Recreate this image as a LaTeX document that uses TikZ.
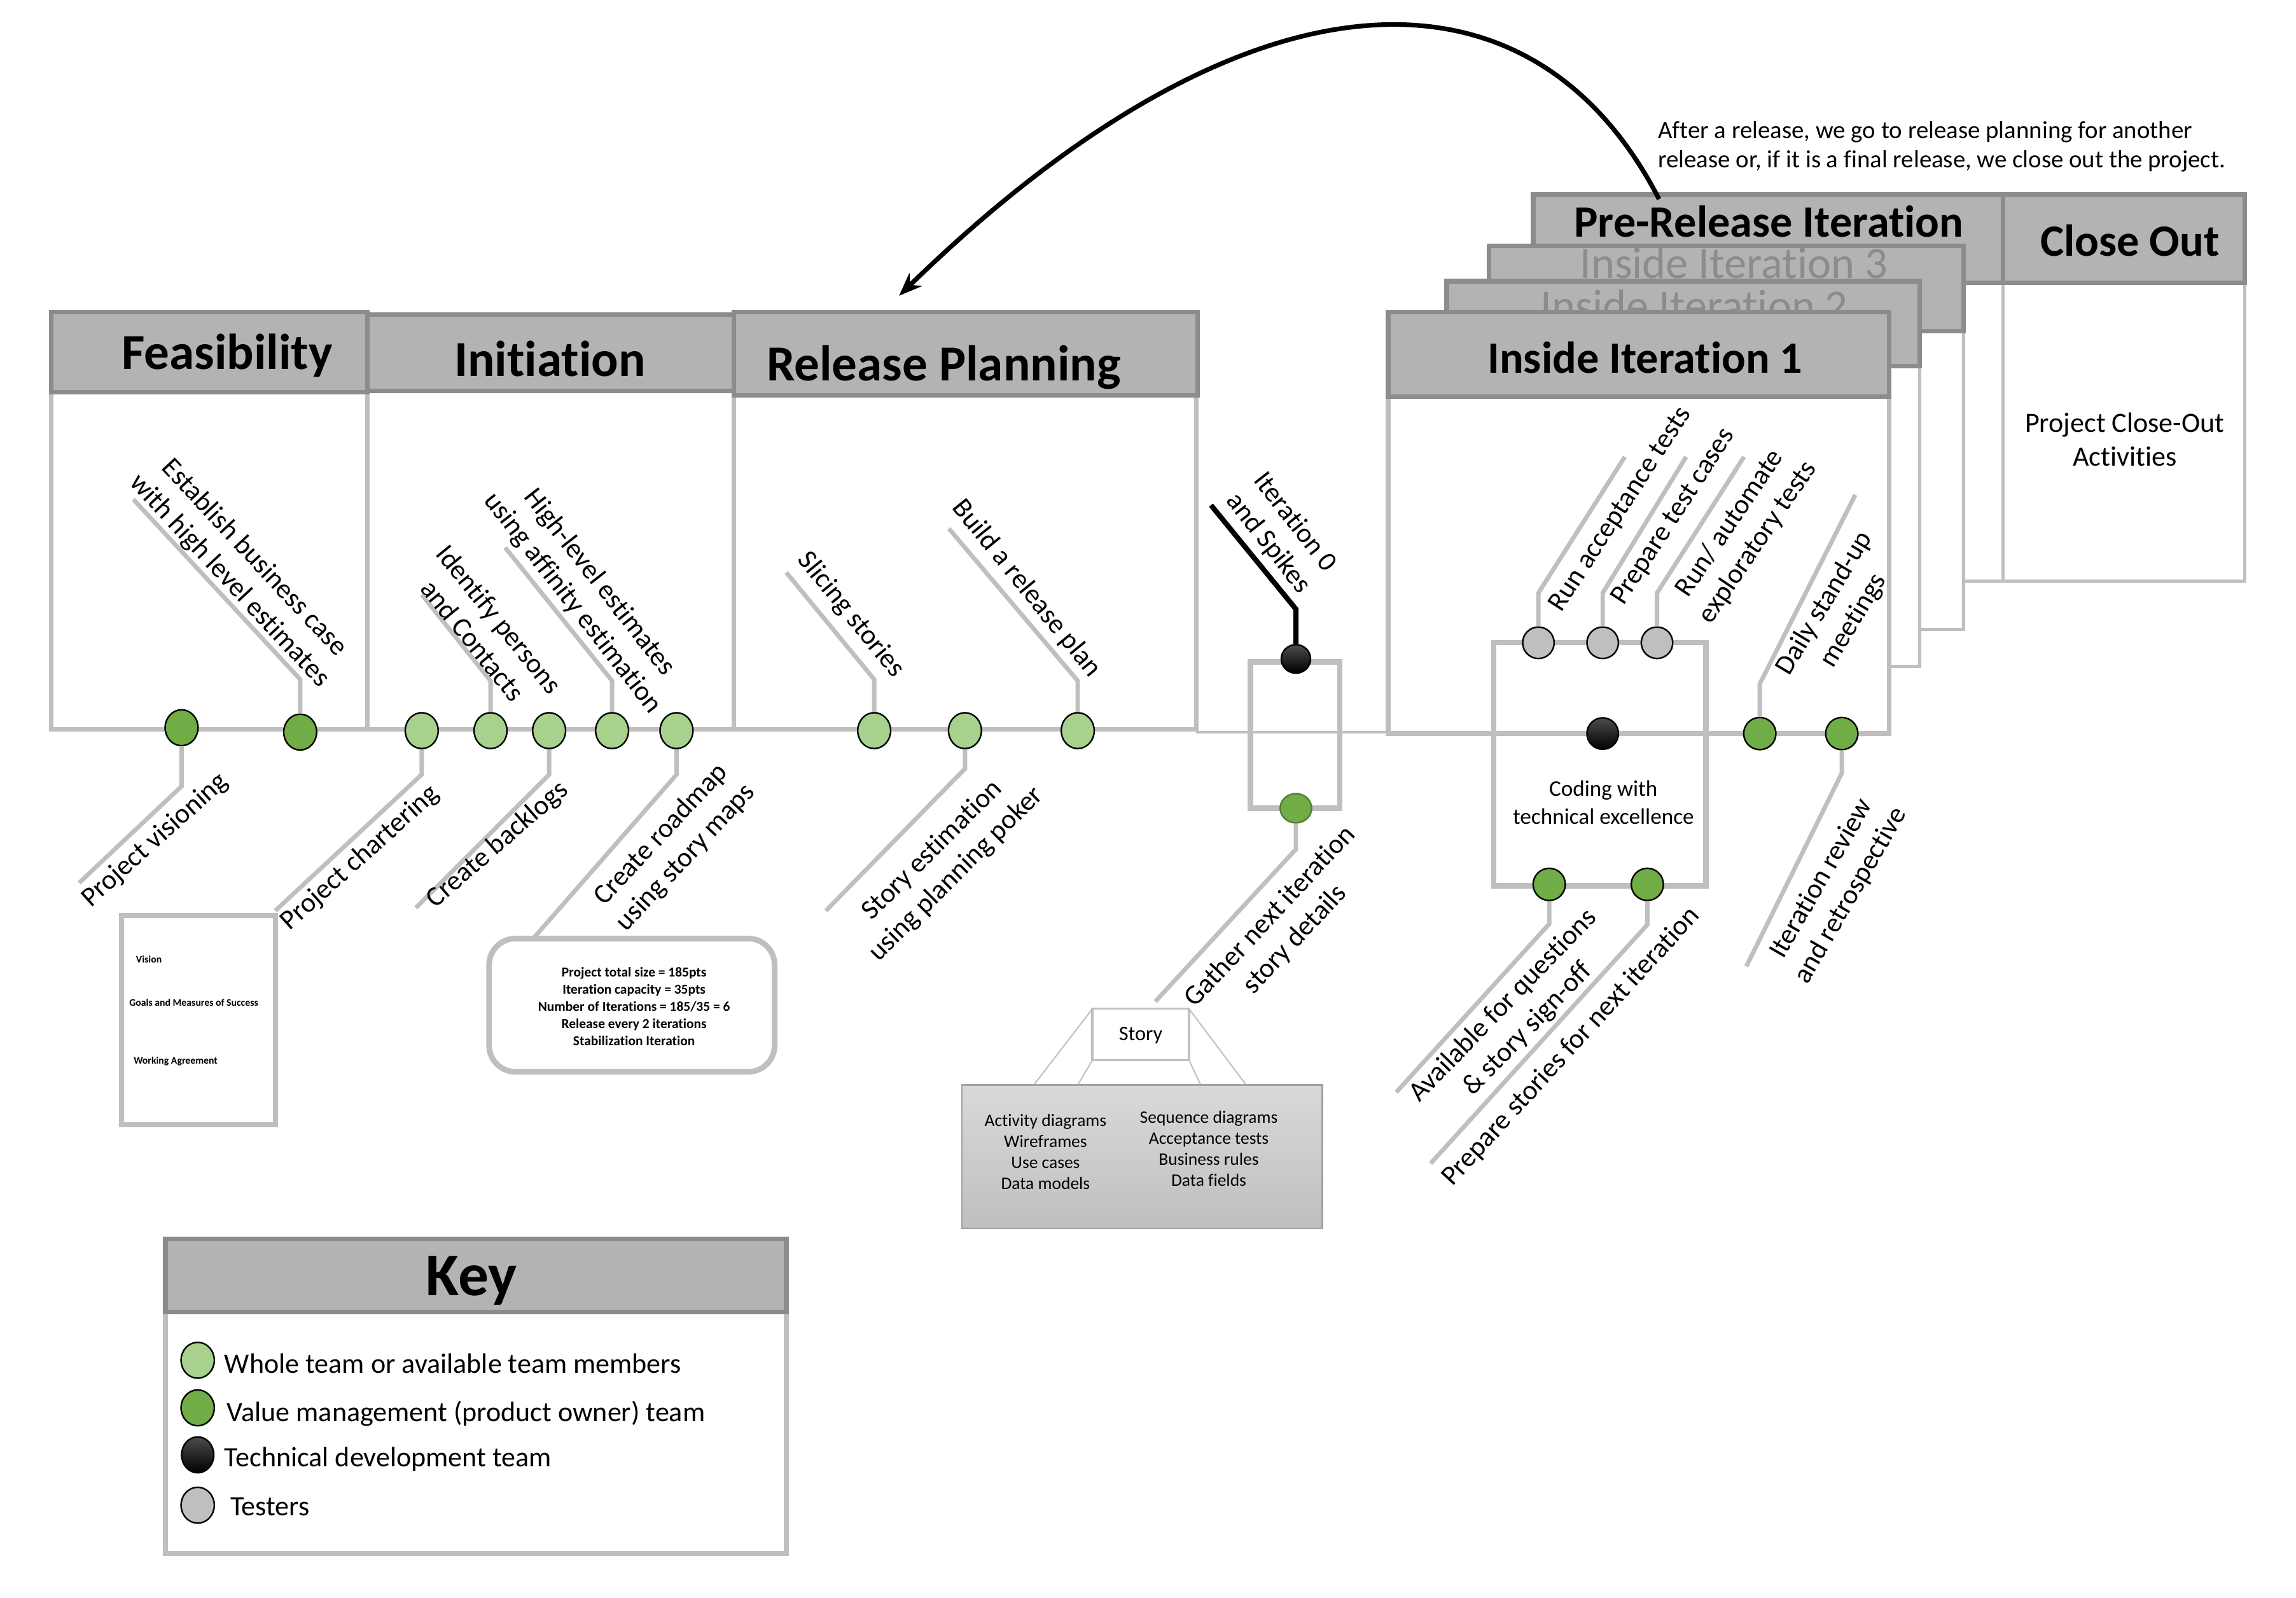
\documentclass[tikz,border=0pt]{standalone}
\usepackage{fontspec}
\setmainfont{Carlito}[Ligatures=NoCommon]
\usetikzlibrary{shapes.geometric,arrows.meta}
\definecolor{hdr}{RGB}{179,179,179}
\definecolor{hdrline}{RGB}{140,140,140}
\definecolor{boxline}{RGB}{191,191,191}
\definecolor{lgreen}{RGB}{169,209,142}
\definecolor{dgreen}{RGB}{112,173,71}
\definecolor{dgreenline}{RGB}{80,126,50}
\definecolor{tgray}{RGB}{191,191,191}
\definecolor{ghost}{RGB}{140,140,140}
\newcommand{\lblfont}{\fontsize{10.8pt}{13.1pt}\selectfont}
\newcommand{\headAfont}{\fontsize{19.6pt}{22pt}\selectfont\bfseries}
\newcommand{\headBfont}{\fontsize{17.4pt}{20pt}\selectfont\bfseries}
\tikzset{
  hdrbox/.style={fill=hdr, draw=hdrline, line width=1.8pt},
  bodybox/.style={fill=white, draw=boxline, line width=1.8pt},
  thinbody/.style={fill=white, draw=boxline, line width=1.3pt},
  lead/.style={draw=boxline, line width=1.7pt},
  dotbase/.style={ellipse, draw=black, line width=0.6pt, inner sep=0pt, minimum width=0.45cm, minimum height=0.49cm},
  dotL/.style={dotbase, fill=lgreen},
  dotD/.style={dotbase, fill=dgreen},
  dotK/.style={dotbase, top color=black!70, bottom color=black},
  dotT/.style={dotbase, fill=tgray},
  rdot/.style={ellipse, draw=black, line width=0.6pt, inner sep=0pt, minimum width=0.43cm, minimum height=0.43cm},
  rdotT/.style={rdot, fill=tgray},
  rdotB/.style={rdot, top color=black!70, bottom color=black},
  rdotG/.style={rdot, fill=dgreen},
  lbl/.style={font=\lblfont, align=center, inner sep=0pt},
  headA/.style={font=\headAfont, anchor=base, inner sep=0pt},
  headB/.style={font=\headBfont, anchor=base, inner sep=0pt},
}
\begin{document}
\begin{tikzpicture}[x=0.02cm,y=-0.02cm]
\useasboundingbox (0,0) rectangle (1568,1091);

% ---------- phase boxes ----------
\draw[bodybox] (35,268) rectangle (251,498);
\draw[bodybox] (251,267) rectangle (501,498);
\draw[bodybox] (501,270) rectangle (817,498);
\draw[hdrbox] (35,213) rectangle (251,268);
\draw[hdrbox] (251,215) rectangle (501,267);
\draw[hdrbox] (501,213) rectangle (818,270);
\node[headA] (hFeas) at (155,252) {Feasibility};
\node[headA] (hInit) at (375.5,257) {Initiation};
\node[headA] (hRel) at (644.5,260) {Release Planning};

% thin timeline
\draw[boxline, line width=0.9pt] (817,500) -- (948,500);

% ---------- stacked iteration boxes ----------
\draw[thinbody] (1047,193) rectangle (1368,397);
\draw[hdrbox] (1047,133) rectangle (1368,193);
\node[headB] (hPre) at (1208,162) {Pre-Release Iteration};
\draw[thinbody] (1017,226) rectangle (1341,430);
\draw[hdrbox] (1017,168) rectangle (1341,226);
\node[headB, text=ghost, font=\headBfont\mdseries] (hIt3) at (1184,190) {Inside Iteration 3};
\draw[thinbody] (988,250) rectangle (1311,455);
\draw[hdrbox] (988,192) rectangle (1311,250);
\node[headB, text=ghost, font=\headBfont\mdseries] (hIt2) at (1157,219) {Inside Iteration 2};
\draw[bodybox] (948,271) rectangle (1290,501);
\draw[hdrbox] (948,213) rectangle (1290,271);
\node[headB] (hIt1) at (1123.5,255) {Inside Iteration 1};

% close out
\draw[thinbody] (1368,193) rectangle (1533,397);
\draw[hdrbox] (1368,133) rectangle (1533,193);
\node[headB] (hClose) at (1454.5,175) {Close Out};
\node[font=\fontsize{10.9pt}{13.1pt}\selectfont, align=center] (tClose) at (1451,300) {Project Close-Out\\Activities};

% annotation
\node[font=\fontsize{9.6pt}{11.4pt}\selectfont, align=left, anchor=west, inner sep=0pt] (tNote) at (1132,100) {After a release, we go to release planning for another\\release or, if it is a final release, we close out the project.};

% loop arrow
\coordinate (arrS) at (1133,136);
\coordinate (arrE) at (614,202);
\draw[line width=1.8pt, -{Stealth[length=9pt,width=7pt]}] (arrS) .. controls (1045,-35) and (850,-28) .. (arrE);

% ---------- Iteration 0 ----------
\draw[boxline, line width=2.2pt] (854,452) rectangle (915,552);

% ---------- Coding box ----------
\draw[boxline, line width=2pt] (1020,439) rectangle (1165,605);
\node[font=\fontsize{8.7pt}{10.8pt}\selectfont, align=center] (tCode) at (1095,548) {Coding with\\technical excellence};

% ---------- documents ----------
\draw[draw=boxline, line width=2pt, fill=white] (83,625) rectangle (188,768);
\node[font=\fontsize{3.9pt}{4.5pt}\selectfont\bfseries, anchor=west, inner sep=0pt] (tVis) at (92.6,655) {Vision};
\node[font=\fontsize{3.9pt}{4.5pt}\selectfont\bfseries, anchor=west, inner sep=0pt] (tGoal) at (88,684.8) {Goals and Measures of Success};
\node[font=\fontsize{3.9pt}{4.5pt}\selectfont\bfseries, anchor=west, inner sep=0pt] (tWork) at (91,724.7) {Working Agreement};

\draw[draw=boxline, line width=2.2pt, fill=white, rounded corners=0.36cm] (334,641) rectangle (529,732);
\node[font=\fontsize{5.3pt}{6.66pt}\selectfont\bfseries, align=center] (tRoad) at (433,687.5) {Project total size = 185pts\\Iteration capacity = 35pts\\Number of Iterations = 185/35 = 6\\Release every 2 iterations\\Stabilization Iteration};

% story
\draw[draw=boxline, line width=0.5pt] (746,689) -- (706,741);
\draw[draw=boxline, line width=0.5pt] (746,724) -- (736,741);
\draw[draw=boxline, line width=0.5pt] (812,724) -- (820,741);
\draw[draw=boxline, line width=0.5pt] (812,689) -- (851,741);
\draw[draw=boxline, line width=0.8pt, fill=white] (746,689) rectangle (812,724);
\node[font=\fontsize{8pt}{9.6pt}\selectfont] (tStory) at (779,707) {Story};
\draw[draw=boxline!85!black, line width=0.6pt, top color=gray!30, bottom color=gray!50] (657,741) rectangle (903,839);
\node[font=\fontsize{6.8pt}{8.15pt}\selectfont, align=center] (tSL) at (714,786.5) {Activity diagrams\\Wireframes\\Use cases\\Data models};
\node[font=\fontsize{6.8pt}{8.15pt}\selectfont, align=center] (tSR) at (825.5,784.5) {Sequence diagrams\\Acceptance tests\\Business rules\\Data fields};

% ---------- dots ----------
\node[dotD] (fd1) at (124,497) {};
\node[dotD] (fd2) at (205,500) {};
\node[dotL] (id1) at (288,499) {};
\node[dotL] (id2) at (335,499) {};
\node[dotL] (id3) at (375,499) {};
\node[dotL] (id4) at (418,499) {};
\node[dotL] (id5) at (462,499) {};
\node[dotL] (rd1) at (597,499) {};
\node[dotL] (rd2) at (659,499) {};
\node[dotL] (rd3) at (736,499) {};
\node[rdotB, minimum width=0.40cm, minimum height=0.39cm] (i0b) at (885,450) {};
\node[rdotG, draw=dgreenline, minimum width=0.43cm, minimum height=0.40cm] (i0g) at (885,552) {};
\node[rdotT] (t1) at (1050.6,439) {};
\node[rdotT] (t2) at (1094.5,439) {};
\node[rdotT] (t3) at (1131.6,439) {};
\node[rdotB] (bk) at (1094.5,501) {};
\node[rdotG, minimum width=0.44cm, minimum height=0.44cm] (g1) at (1201.8,501) {};
\node[rdotG, minimum width=0.44cm, minimum height=0.44cm] (g2) at (1257.8,501) {};
\node[rdotG, minimum width=0.44cm, minimum height=0.44cm] (g3) at (1058,604) {};
\node[rdotG, minimum width=0.44cm, minimum height=0.44cm] (g4) at (1125,604) {};

% ---------- leader lines ----------
\coordinate (fd1b) at (124,537); \coordinate (fd1e) at (54,603);
\coordinate (fd2b) at (205,464); \coordinate (fd2e) at (91,341);
\coordinate (id1b) at (288,529); \coordinate (id1e) at (188,622);
\coordinate (id2b) at (335,465); \coordinate (id2e) at (288,406);
\coordinate (id3b) at (375,529); \coordinate (id3e) at (284,620);
\coordinate (id4b) at (418,465); \coordinate (id4e) at (345,374);
\coordinate (id5b) at (462,529); \coordinate (id5e) at (365,640);
\coordinate (rd1b) at (597,464); \coordinate (rd1e) at (537,391);
\coordinate (rd2b) at (659,525); \coordinate (rd2e) at (564,622);
\coordinate (rd3b) at (736,465); \coordinate (rd3e) at (648,361);
\coordinate (i0bb) at (885,416); \coordinate (i0be) at (827,345);
\coordinate (i0gb) at (885,580); \coordinate (i0ge) at (789,684);
\coordinate (t1b) at (1050.6,405); \coordinate (t1e) at (1109.6,312);
\coordinate (t2b) at (1094.5,405); \coordinate (t2e) at (1151.5,312);
\coordinate (t3b) at (1131.6,405); \coordinate (t3e) at (1191,312);
\coordinate (g1b) at (1201.8,467); \coordinate (g1e) at (1267,338);
\coordinate (g2b) at (1257.8,528); \coordinate (g2e) at (1192.6,660);
\coordinate (g3b) at (1058,631); \coordinate (g3e) at (953.5,746);
\coordinate (g4b) at (1125,631.5); \coordinate (g4e) at (977,794.6);
\foreach \d in {fd1,fd2,id1,id2,id3,id4,id5,rd1,rd2,rd3,i0g,t1,t2,t3,g1,g2,g3,g4}{
  \draw[lead] (\d) -- (\d b) -- (\d e);
}
\draw[line width=2pt] (i0b) -- (i0bb) -- (i0be);

% ---------- labels ----------
\node[lbl, rotate=42] (lPV) at (106,574) {Project visioning};
\node[lbl, rotate=-47] (lEB) at (165,389) {Establish business case\\with high level estimates};
\node[lbl, rotate=42] (lPC) at (246,586) {Project chartering};
\node[lbl, rotate=-51] (lIP) at (332,430) {Identify persons\\and Contacts};
\node[lbl, rotate=41] (lCB) at (340,577) {Create backlogs};
\node[lbl, rotate=-52] (lHL) at (400,405) {High-level estimates\\using affinity estimation};
\node[lbl, rotate=47] (lCR) at (460,578) {Create roadmap\\using story maps};
\node[lbl, rotate=-51] (lSS) at (581,420) {Slicing stories};
\node[lbl, rotate=45] (lSE) at (645,589) {Story estimation\\using planning poker};
\node[lbl, rotate=-51] (lBR) at (701,402) {Build a release plan};
\node[lbl, rotate=-52] (lI0) at (875,364) {Iteration 0\\and Spikes};
\node[lbl, rotate=47] (lGN) at (876,634) {Gather next iteration\\story details};
\node[lbl, rotate=57] (lRA) at (1107,348) {Run acceptance tests};
\node[lbl, rotate=57] (lPT) at (1143,353) {Prepare test cases};
\node[lbl, rotate=56] (lRE) at (1191,364) {Run/ automate\\exploratory tests};
\node[lbl, rotate=59] (lDS) at (1256,418) {Daily stand-up\\meetings};
\node[lbl, rotate=60] (lIR) at (1254,606) {Iteration review\\and retrospective};
\node[lbl, rotate=46] (lAQ) at (1035,695) {Available for questions\\\& story sign-off};
\node[lbl, rotate=47.5] (lPS) at (1073,715) {Prepare stories for next iteration};

% ---------- key ----------
\draw[bodybox] (113,896) rectangle (537,1061);
\draw[hdrbox] (113,846) rectangle (537,896);
\node[font=\fontsize{23.6pt}{26pt}\selectfont\bfseries, anchor=base, inner sep=0pt] (hKey) at (322,885) {Key};
\node[dotL, minimum width=0.454cm] (k1) at (135,929) {};
\node[dotD, minimum width=0.454cm] (k2) at (135,961.5) {};
\node[dotK, minimum width=0.44cm] (k3) at (135,993.6) {};
\node[dotT, minimum width=0.454cm] (k4) at (135,1028) {};
\node[font=\fontsize{10.9pt}{13pt}\selectfont, anchor=base west, inner sep=0pt] (k1t) at (153,938) {Whole team or available team members};
\node[font=\fontsize{10.9pt}{13pt}\selectfont, anchor=base west, inner sep=0pt] (k2t) at (154.7,971) {Value management (product owner) team};
\node[font=\fontsize{10.9pt}{13pt}\selectfont, anchor=base west, inner sep=0pt] (k3t) at (153,1001.5) {Technical development team};
\node[font=\fontsize{10.9pt}{13pt}\selectfont, anchor=base west, inner sep=0pt] (k4t) at (157,1035) {Testers};
\end{tikzpicture}
\end{document}
